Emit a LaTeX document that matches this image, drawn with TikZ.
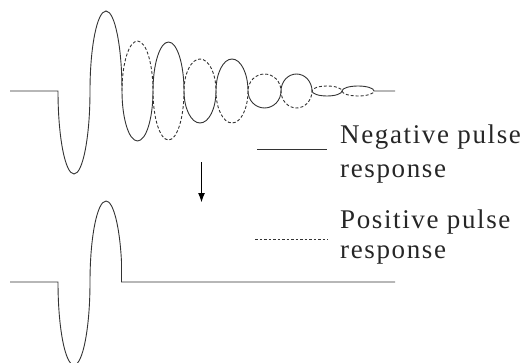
\documentclass[tikz,border=0pt]{standalone}
\usepackage{fontspec}
\setmainfont{Liberation Serif}
\newfontfamily\legfont[LetterSpace=6]{Liberation Serif}
\usetikzlibrary{arrows.meta}

\begin{document}
\begin{tikzpicture}[x=1pt,y=1pt,
    wave/.style={draw=black!80, line width=0.9pt},
    posdash/.style={wave, dash pattern=on 3pt off 2pt},
    legtext/.style={anchor=base west, inner sep=0pt, text=black!85, font=\fontsize{27}{32}\legfont}]
      \useasboundingbox (0,0) rectangle (529,362);

      % Top waveform, negative pulse (solid)
      \draw[wave] (10,271) -- (58,271)
        arc[start angle=180, end angle=360, x radius=16, y radius=83]
        arc[start angle=180, end angle=0, x radius=16, y radius=80]
        arc[start angle=180, end angle=360, x radius=15.5, y radius=50]
        arc[start angle=180, end angle=0, x radius=15.5, y radius=49]
        arc[start angle=180, end angle=360, x radius=16, y radius=32]
        arc[start angle=180, end angle=0, x radius=16, y radius=32]
        arc[start angle=180, end angle=360, x radius=16.5, y radius=17]
        arc[start angle=180, end angle=0, x radius=15.5, y radius=17]
        arc[start angle=180, end angle=360, x radius=15, y radius=5]
        arc[start angle=180, end angle=0, x radius=16, y radius=5]
        -- (395,271);

      % Top waveform, positive pulse (dashed)
      \draw[posdash] (122,271)
        arc[start angle=180, end angle=0, x radius=15.5, y radius=50]
        arc[start angle=180, end angle=360, x radius=15.5, y radius=49]
        arc[start angle=180, end angle=0, x radius=16, y radius=32]
        arc[start angle=180, end angle=360, x radius=16, y radius=32]
        arc[start angle=180, end angle=0, x radius=16.5, y radius=17]
        arc[start angle=180, end angle=360, x radius=15.5, y radius=17]
        arc[start angle=180, end angle=0, x radius=15, y radius=5]
        arc[start angle=180, end angle=360, x radius=16, y radius=5];

      % Arrow
      \coordinate (arrtop) at (201.5,200);
      \coordinate (arrtip) at (201.5,159);
      \draw[-{Latex[length=10pt,width=7pt]}, line width=1.8pt] (arrtop) -- (arrtip);

      % Bottom waveform
      \draw[wave] (10,80) -- (58,80)
        arc[start angle=180, end angle=360, x radius=16, y radius=83]
        arc[start angle=180, end angle=14, x radius=16, y radius=81]
        |- (395,80);

      % Legend
      \draw[wave] (257,213) -- (327,213);
      \node[legtext] (negtext) at (340,219) {Negative pulse};
      \node[legtext] (negresp) at (340,185) {response};
      \draw[posdash, line width=0.7pt, dash pattern=on 2.5pt off 2pt] (255,123) -- (328,123);
      \node[legtext] (postext) at (340,134) {Positive pulse};
      \node[legtext] (posresp) at (340,104) {response};
\end{tikzpicture}
\end{document}
